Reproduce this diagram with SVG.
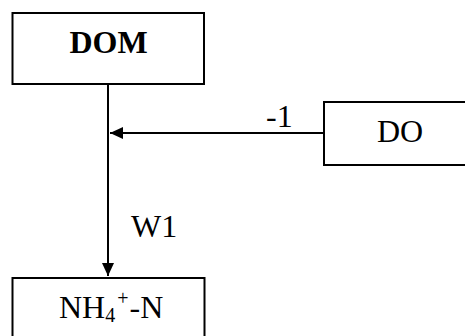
<svg xmlns="http://www.w3.org/2000/svg" width="465" height="336" viewBox="0 0 465 336">
  <style>
    .box { fill: #fff; stroke: #000; stroke-width: 2; }
    .line { fill: none; stroke: #000; stroke-width: 2; }
    .t { font-family: "Liberation Serif", "Times New Roman", serif; font-size: 32px; fill: #000; }
    .b { font-weight: bold; }
  </style>
  <defs>
    <marker id="arrow" markerUnits="userSpaceOnUse" markerWidth="14" markerHeight="12" refX="13" refY="6" orient="auto">
      <path d="M0,0 L13,6 L0,12 Z" fill="#000"/>
    </marker>
  </defs>
  <g id="connectors">
    <line class="line" x1="108" y1="84" x2="108" y2="276" marker-end="url(#arrow)"/>
    <line class="line" x1="324" y1="133" x2="110" y2="133" marker-end="url(#arrow)"/>
    <text class="t" x="266" y="127">-1</text>
    <text class="t" x="131" y="237">W1</text>
  </g>
  <g id="DOM">
    <rect class="box" x="12.5" y="13" width="191.5" height="71"/>
    <text class="t b" x="108.5" y="53" text-anchor="middle">DOM</text>
  </g>
  <g id="DO">
    <rect class="box" x="324" y="102" width="150" height="63"/>
    <text class="t" x="400" y="142" text-anchor="middle">DO</text>
  </g>
  <g id="NH4N">
    <rect class="box" x="12.5" y="278" width="192" height="70"/>
    <text class="t" x="59" y="318">NH<tspan font-size="20" dy="4">4</tspan><tspan font-size="20" dx="2" dy="-17">+</tspan><tspan dx="1" dy="13">-N</tspan></text>
  </g>
</svg>
